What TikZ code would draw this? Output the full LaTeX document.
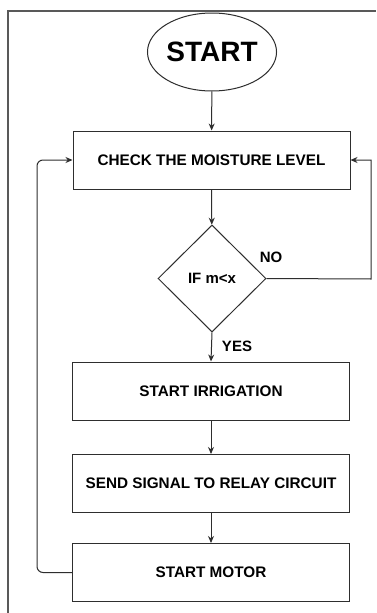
\documentclass[tikz,border=0pt]{standalone}
\usepackage{fontspec}
\setmainfont{Liberation Sans}
\usetikzlibrary{shapes.geometric,arrows.meta}
\begin{document}
\begin{tikzpicture}[x=1pt,y=-1pt,
  line/.style={draw=black!82, line width=1pt},
  arr/.style={line, -{Stealth[length=7pt,width=6pt]}},
  procbox/.style={line, rectangle, minimum width=277pt, minimum height=58pt, inner sep=0pt,
     font=\fontsize{15.3}{18}\selectfont\bfseries},
  lbl/.style={font=\fontsize{15}{18}\selectfont\bfseries, inner sep=0pt}]
\useasboundingbox (0,0) rectangle (376,613);
\fill[white] (0,0) rectangle (376,613);
\draw[black!65, line width=2pt] (8,613) -- (8,10.5) -- (376,10.5);
\node[line, ellipse, minimum width=118pt, minimum height=78pt, inner sep=0pt,
  font=\fontsize{28}{32}\selectfont\bfseries] (start) at (212,52) {START};
\node[procbox] (check) at (211.5,160) {CHECK THE MOISTURE LEVEL};
\node[line, diamond, minimum width=108pt, minimum height=107pt, inner sep=0pt, aspect=1,
  font=\fontsize{15}{18}\selectfont\bfseries] (dec) at (212,278.5) {IF m<x};
\node[procbox] (irr) at (211,391) {START IRRIGATION};
\node[procbox] (sig) at (211,483.5) {SEND SIGNAL TO RELAY CIRCUIT};
\node[procbox] (mot) at (211,572.5) {START MOTOR};
\node[lbl] (no) at (271,257) {NO};
\node[lbl] (yes) at (237,346) {YES};
\coordinate (nr) at (371,279);
\coordinate (nt) at (371,160);
\coordinate (lb) at (37,572.5);
\coordinate (lt) at (37,160);
\draw[arr] (start) -- (check);
\draw[arr] (check) -- (dec);
\draw[arr] (dec.south) -- (irr.north);
\draw[arr] (irr) -- (sig);
\draw[arr] (sig) -- (mot);
\draw[arr] (dec.east) -- (nr) -- (nt) -- (check.east);
\draw[arr, rounded corners=6pt] (mot.west) -- (lb) -- (lt) -- (check.west);
\end{tikzpicture}
\end{document}
